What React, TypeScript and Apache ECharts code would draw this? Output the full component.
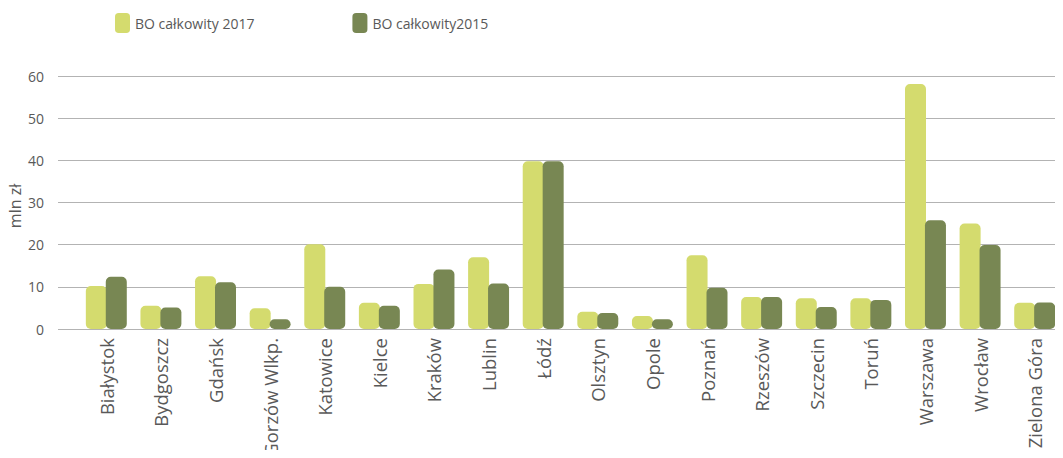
import React, { useEffect, useRef } from "react";
import * as echarts from "echarts";

const categories = [
  "Białystok", "Bydgoszcz", "Gdańsk", "Gorzów Wlkp.", "Katowice", "Kielce",
  "Kraków", "Lublin", "Łódź", "Olsztyn", "Opole", "Poznań", "Rzeszów",
  "Szczecin", "Toruń", "Warszawa", "Wrocław", "Zielona Góra",
];
const bo2017 = [10.2, 5.5, 12.5, 4.9, 20.1, 6.2, 10.7, 17.0, 39.8, 4.1, 3.1, 17.5, 7.6, 7.3, 7.3, 58.1, 25.0, 6.2];
const bo2015 = [12.4, 5.1, 11.1, 2.3, 10.0, 5.5, 14.1, 10.8, 39.8, 3.8, 2.3, 9.8, 7.6, 5.2, 6.9, 25.8, 19.9, 6.3];
const seriesNames = ["BO całkowity 2017", "BO całkowity2015"];
const yTitle = "mln zł";

const LIGHT = "#d4db6e";
const DARK = "#788753";
const TEXT = "#595959";
const FONT = "'Open Sans', sans-serif";

export default function App() {
  const ref = useRef<HTMLDivElement>(null);
  useEffect(() => {
    if (!ref.current) return;
    const chart = echarts.init(ref.current, null, { renderer: "svg" });
    chart.setOption({
      animation: false,
      textStyle: { fontFamily: FONT },
      legend: {
        left: 110,
        top: 8,
        itemWidth: 15,
        itemHeight: 20,
        itemGap: 98,
        icon: "roundRect",
        textStyle: { color: TEXT, fontSize: 14, fontFamily: FONT },
        data: seriesNames,
      },
      graphic: [
        {
          type: "text",
          x: 15,
          y: 206,
          rotation: Math.PI / 2,
          style: {
            text: yTitle,
            fill: TEXT,
            fontSize: 16,
            fontFamily: FONT,
            align: "center",
            verticalAlign: "middle",
          },
        },
      ],
      grid: [
        { left: 58, right: 0, top: 76, bottom: 129, containLabel: false, outerBoundsMode: "none" },
        { left: 79, right: 1, top: 76, bottom: 129, containLabel: false, outerBoundsMode: "none" },
      ],
      xAxis: [
        { gridIndex: 0, type: "value", show: false, min: 0, max: 1 },
        {
          gridIndex: 1,
          type: "category",
          data: categories,
          axisLine: { show: false },
          axisTick: { show: false },
          axisLabel: {
            rotate: 90,
            margin: 9,
            color: TEXT,
            fontSize: 18.5,
            fontFamily: FONT,
            interval: 0,
          },
        },
      ],
      yAxis: [
        {
          gridIndex: 0,
          type: "value",
          min: 0,
          max: 60,
          interval: 10,
          axisLine: { show: false },
          axisTick: { show: false },
          axisLabel: { color: TEXT, fontSize: 14, margin: 14, fontFamily: FONT },
          splitLine: { lineStyle: { color: "#b3b3b3", width: 1 } },
        },
        {
          gridIndex: 1,
          type: "value",
          min: 0,
          max: 60,
          interval: 10,
          show: false,
          splitLine: { show: false },
        },
      ],
      series: [
        {
          name: seriesNames[0],
          type: "bar",
          xAxisIndex: 1,
          yAxisIndex: 1,
          data: bo2017,
          barWidth: 21,
          barGap: "-5%",
          itemStyle: { color: LIGHT, borderRadius: 5 },
        },
        {
          name: seriesNames[1],
          type: "bar",
          xAxisIndex: 1,
          yAxisIndex: 1,
          data: bo2015,
          barWidth: 21,
          barGap: "-5%",
          itemStyle: { color: DARK, borderRadius: 5 },
        },
      ],
    });
    return () => chart.dispose();
  }, []);
  return <div ref={ref} style={{ width: 1063, height: 458, margin: -8 }} />;
}
